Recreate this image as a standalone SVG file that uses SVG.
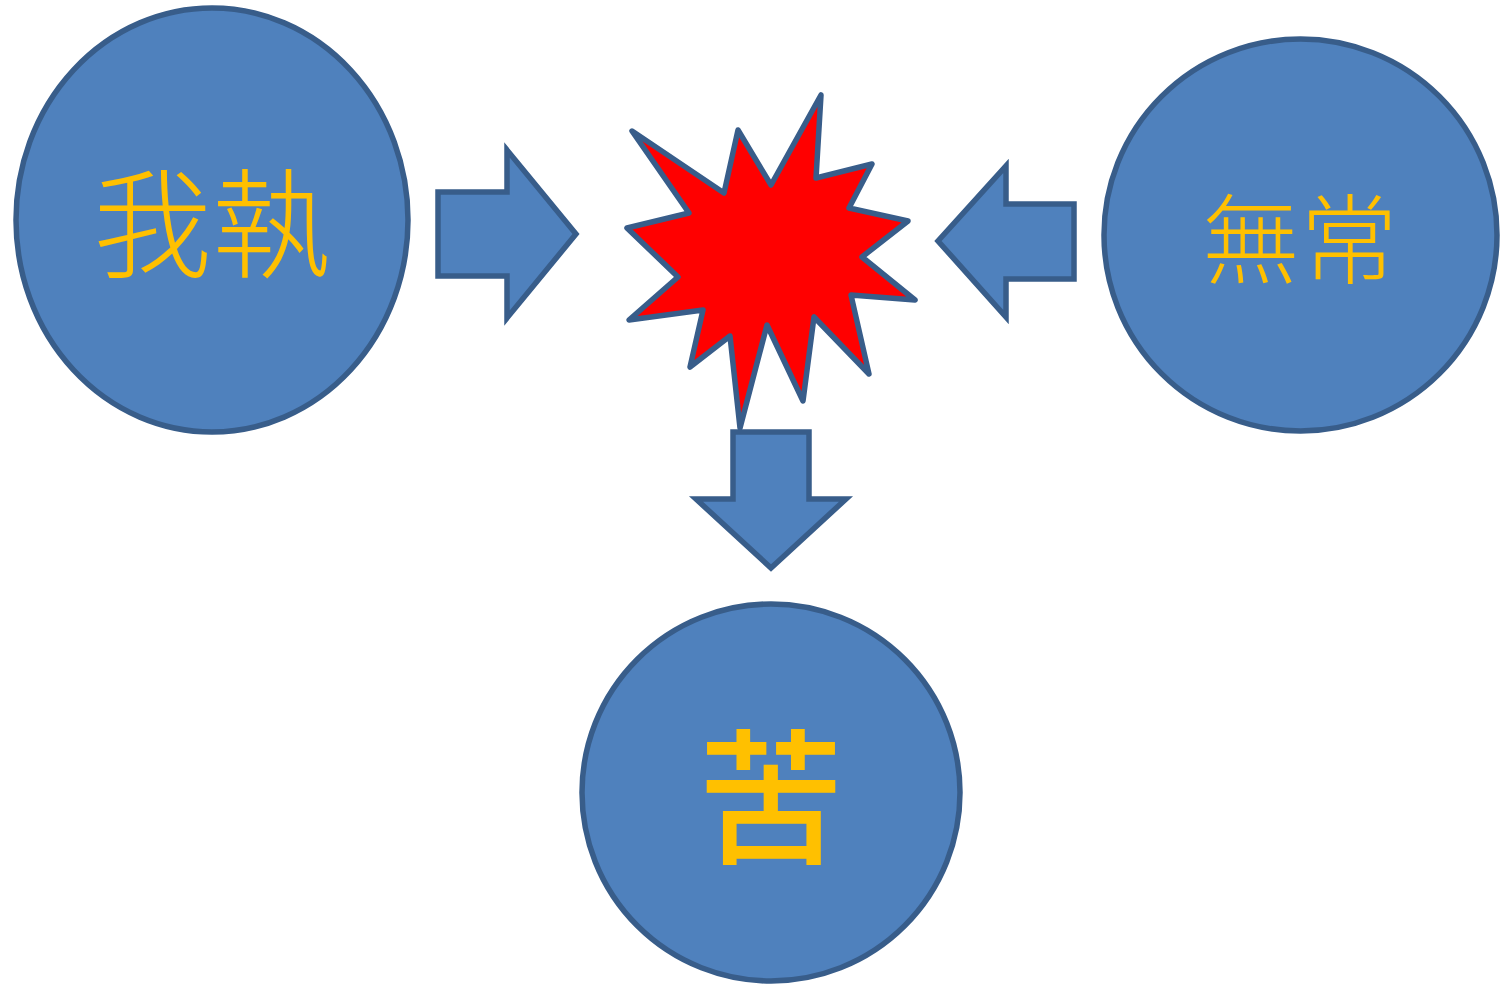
<svg xmlns="http://www.w3.org/2000/svg" width="1503" height="985" viewBox="0 0 1503 985">
<style>
.s{fill:#4f81bd;stroke:#385d8a;stroke-width:5.5;stroke-linejoin:miter}
.t{fill:#ffc000;font-family:"Noto Sans CJK TC","Noto Sans CJK JP",serif;text-anchor:middle}
</style>
<rect width="1503" height="985" fill="#fff"/>
<g id="node-gazhi"><ellipse class="s" cx="212" cy="220" rx="196" ry="212"/><text class="t" x="212" y="269" font-size="119" font-weight="300">我執</text></g>
<g id="node-mujo"><ellipse class="s" cx="1300.500" cy="235" rx="196.500" ry="196"/><text class="t" x="1300" y="276" font-size="98" font-weight="300">無常</text></g>
<g id="node-ku"><ellipse class="s" cx="771" cy="792.500" rx="189" ry="188.500"/><text class="t" x="771" y="852" font-size="146" font-weight="500">苦</text></g>
<g id="node-burst"><polygon points="632,131 724,193 738,130 771,185 821,95 816,178 872,164 849,208 908,221 862,257 915,300 851,295 869,374 814,317 803,401 767,325 740,428 730,336 690,367 703,310 629,320 678,277 627,228 689,213" fill="#ff0000" stroke="#385d8a" stroke-width="5.500" stroke-linejoin="round"/></g>
<g id="connectors">
<polygon class="s" points="438,192 507,192 507,150 576,234 507,318 507,276 438,276"/>
<polygon class="s" points="1074,204 1006,204 1006,166 938,241 1006,317 1006,279 1074,279"/>
<polygon class="s" points="733,432 809,432 809,499 846,499 771,568 696,499 733,499"/>
</g>
</svg>
